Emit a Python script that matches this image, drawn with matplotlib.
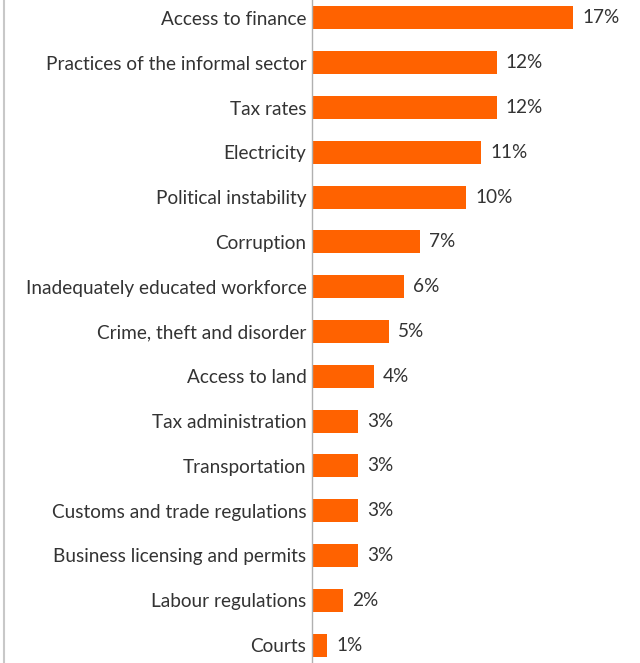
import matplotlib
matplotlib.use('Agg')
from matplotlib import pyplot as plt
from matplotlib.lines import Line2D

# データ
categories = ['Access to finance', 'Practices of the informal sector', 'Tax rates',
              'Electricity', 'Political instability', 'Corruption',
              'Inadequately educated workforce', 'Crime, theft and disorder',
              'Access to land', 'Tax administration', 'Transportation',
              'Customs and trade regulations', 'Business licensing and permits',
              'Labour regulations', 'Courts']
values = [17, 12, 12, 11, 10, 7, 6, 5, 4, 3, 3, 3, 3, 2, 1]
labels = ['17%', '12%', '12%', '11%', '10%', '7%', '6%', '5%', '4%',
          '3%', '3%', '3%', '3%', '2%', '1%']

plt.rcParams['font.family'] = ['Lato', 'DejaVu Sans']
text_color = '#333333'
orange = '#FF6200'
fs = 13.7

fig = plt.figure(figsize=(6.4, 6.63), dpi=100)
ax = fig.add_axes([312 / 640, 0, 1 - 312 / 640 - 0.02, 1])

y = list(range(len(categories)))
ax.barh(y, values, height=0.51, color=orange)

# 値ラベル
for yi, v, lab in zip(y, values, labels):
    ax.text(v + 0.6, yi, lab, va='center', ha='left', fontsize=fs, color=text_color)

ax.set_xlim(0, 20.5)
ax.set_ylim(14.4, -0.4)
ax.set_yticks(y)
ax.set_yticklabels(categories, fontsize=fs, color=text_color)
ax.tick_params(axis='y', length=0, pad=4)
ax.set_xticks([])
for s in ['top', 'right', 'bottom']:
    ax.spines[s].set_visible(False)
ax.spines['left'].set_color('#b0b0b0')
ax.spines['left'].set_linewidth(1)

# 左端の枠線
fig.add_artist(Line2D([4 / 640, 4 / 640], [0, 1], color='#c8c8c8', lw=1.5,
                      transform=fig.transFigure))

fig.savefig('out.png', dpi=100)
